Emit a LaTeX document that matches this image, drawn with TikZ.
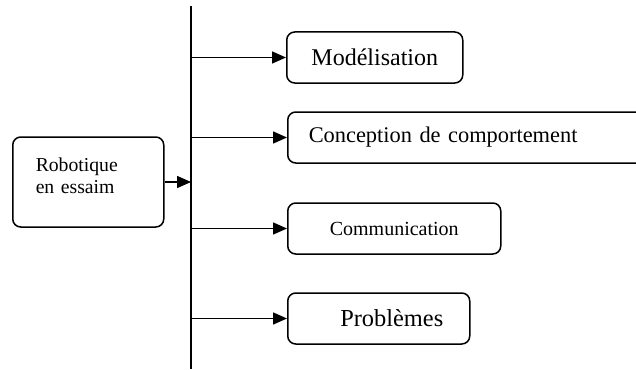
\documentclass[tikz,border=0pt]{standalone}
\usepackage{fontspec}
\setmainfont{Liberation Serif}
\usetikzlibrary{arrows.meta}
\begin{document}
\begin{tikzpicture}[x=1pt,y=-1pt,
  boxnode/.style={draw, line width=1.5pt, rounded corners=8pt, inner sep=0pt, anchor=west, minimum height=51pt},
  arr/.style={line width=1.5pt, -{Triangle[length=14pt,width=12pt]}},
  spineline/.style={line width=1.8pt}]
\useasboundingbox (0,0) rectangle (636,369);
\coordinate (top) at (191,6);
\coordinate (bot) at (191,369);
\draw[spineline] (top) -- (bot);
\node[boxnode, minimum width=151pt, minimum height=90pt, align=left, text width=105pt, inner xsep=23pt,
  font=\fontsize{19.7}{22}\selectfont] (root) at (12,182)
  {\begin{tabular}{@{}l@{}}Robotique\\en essaim\rule[-14pt]{0pt}{0pt}\end{tabular}};
\node[boxnode, minimum width=176pt, font=\fontsize{24}{28}\selectfont] (m) at (286,57.5) {Modélisation};
\node[boxnode, minimum width=363pt, text width=321pt, inner xsep=21pt, align=left, font=\fontsize{22.4}{26}\selectfont] (c) at (287,137.5) {Conception de comportement};
\node[boxnode, minimum width=213pt, font=\fontsize{20}{24}\selectfont] (com) at (287,228.5) {Communication};
\node[boxnode, minimum width=182pt, font=\fontsize{24.4}{28}\selectfont] (p) at (287,318.5) {\hspace*{26pt}Problèmes};
\draw[arr] (root.east) -- (root.east -| top);
\draw[arr] (m.west -| top) -- (m.west);
\draw[arr] (c.west -| top) -- (c.west);
\draw[arr] (com.west -| top) -- (com.west);
\draw[arr] (p.west -| top) -- (p.west);
\end{tikzpicture}
\end{document}
